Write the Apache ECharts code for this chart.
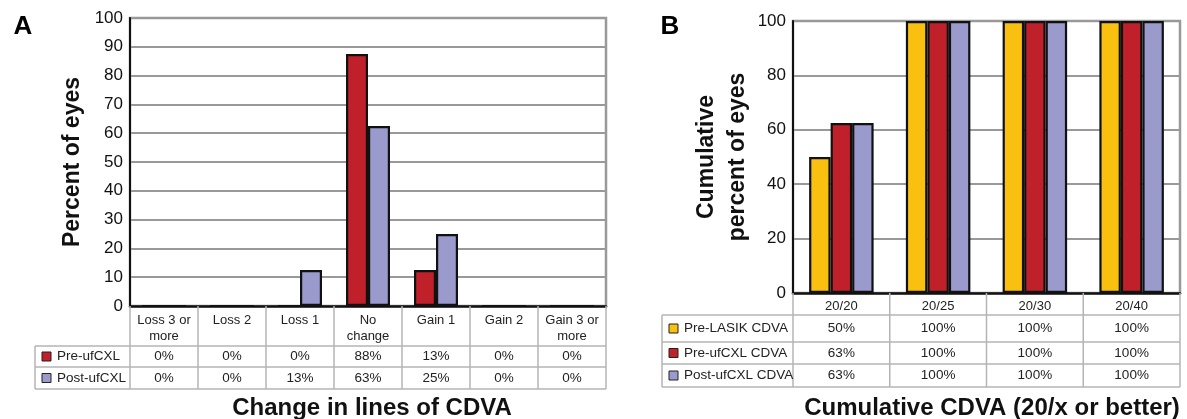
<!DOCTYPE html>
<html><head><meta charset="utf-8">
<script src="https://cdn.jsdelivr.net/npm/echarts@6/dist/echarts.min.js"></script>
<style>html,body{margin:0;padding:0;background:#fff}#c{width:1187px;height:419px}</style>
</head><body><div id="c"></div>
<script>
// ---- data ----
const catsA = ['Loss 3 or\nmore', 'Loss 2', 'Loss 1', 'No\nchange', 'Gain 1', 'Gain 2', 'Gain 3 or\nmore'];
const preA  = [0, 0, 0, 87.5, 12.5, 0, 0];
const postA = [0, 0, 12.5, 62.5, 25, 0, 0];
const namesA = ['Pre-ufCXL', 'Post-ufCXL'];

const catsB = ['20/20', '20/25', '20/30', '20/40'];
const preLasikB = [50, 100, 100, 100];
const preB  = [62.5, 100, 100, 100];
const postB = [62.5, 100, 100, 100];
const namesB = ['Pre-LASIK CDVA', 'Pre-ufCXL CDVA', 'Post-ufCXL CDVA'];

// ---- style ----
const FONT = 'Liberation Sans, Arial, Helvetica, sans-serif';
const RED = '#C0202A', LAV = '#9A9ACC', YEL = '#F9C010';
const GRID_C = '#999999', TBL_C = '#b4b4b4';

const GA = {left: 130, top: 18, width: 476, height: 288};
const GB = {left: 793, top: 21, width: 387, height: 272};

const chart = echarts.init(document.getElementById('c'), null, {renderer: 'canvas'});

function yAxis(gridIndex, interval, name, nameGap, nameSize) {
  return {
    type: 'value', gridIndex, min: 0, max: 100, interval,
    axisLine: {show: true, lineStyle: {color: '#111', width: 2}},
    axisTick: {show: false},
    axisLabel: {fontFamily: FONT, fontSize: 17, color: '#111', margin: 7},
    splitLine: {show: true, lineStyle: {color: GRID_C, width: 2}},
    name, nameLocation: 'middle', nameGap, nameRotate: 90,
    nameTextStyle: {fontFamily: FONT, fontSize: nameSize, fontWeight: 'bold', color: '#111', lineHeight: 31}
  };
}
function xAxis(gridIndex, data, margin) {
  return {
    type: 'category', gridIndex, data,
    axisLine: {show: true, lineStyle: {color: '#111', width: 2.5}},
    axisTick: {show: false},
    axisLabel: {fontFamily: FONT, fontSize: 13, color: '#222', lineHeight: 16, margin, interval: 0},
    splitLine: {show: false}
  };
}
const barStyle = c => ({color: c, borderColor: '#111', borderWidth: 2.2});

chart.setOption({
  animation: false,
  backgroundColor: '#fff',
  grid: [
    Object.assign({show: true, borderColor: GRID_C, borderWidth: 2.5, backgroundColor: 'transparent'}, GA),
    Object.assign({show: true, borderColor: GRID_C, borderWidth: 2.5, backgroundColor: 'transparent'}, GB)
  ],
  xAxis: [xAxis(0, catsA, 6), xAxis(1, catsB, 5)],
  yAxis: [yAxis(0, 10, 'Percent of eyes', 42, 23), yAxis(1, 20, 'Cumulative\npercent of eyes', 40, 23)],
  series: [
    {type: 'bar', name: namesA[0], xAxisIndex: 0, yAxisIndex: 0, data: preA, barWidth: 22, barGap: '0%', itemStyle: barStyle(RED)},
    {type: 'bar', name: namesA[1], xAxisIndex: 0, yAxisIndex: 0, data: postA, barWidth: 22, barGap: '0%', itemStyle: barStyle(LAV)},
    {type: 'bar', name: namesB[0], xAxisIndex: 1, yAxisIndex: 1, data: preLasikB, barWidth: 21.5, barGap: '0%', itemStyle: barStyle(YEL)},
    {type: 'bar', name: namesB[1], xAxisIndex: 1, yAxisIndex: 1, data: preB, barWidth: 21.5, barGap: '0%', itemStyle: barStyle(RED)},
    {type: 'bar', name: namesB[2], xAxisIndex: 1, yAxisIndex: 1, data: postB, barWidth: 21.5, barGap: '0%', itemStyle: barStyle(LAV)}
  ]
});

// ---- tables under the axes ----
const gfx = [];
const line = (x1, y1, x2, y2) => gfx.push({type: 'line', silent: true, z: 50,
  shape: {x1, y1, x2, y2}, style: {stroke: TBL_C, lineWidth: 1.5}});
const text = (x, y, t, opt) => gfx.push({type: 'text', silent: true, z: 60, x, y,
  style: Object.assign({text: t, fontFamily: FONT, fontSize: 13, fill: '#222', align: 'center', verticalAlign: 'middle'}, opt || {})});
const swatch = (x, y, c) => gfx.push({type: 'rect', silent: true, z: 60,
  shape: {x, y, width: 9, height: 9}, style: {fill: c, stroke: '#222', lineWidth: 1}});
const pct = v => Math.round(v) + '%';

function table(grid, gi, cats, rows, names, colors, legLeft, rowYs) {
  const right = grid.left + grid.width;
  const step = grid.width / cats.length;
  for (let k = 0; k <= cats.length; k++) {
    const x = grid.left + k * step;
    line(x, grid.top + grid.height, x, rowYs[rowYs.length - 1]);
  }
  line(legLeft, rowYs[0], legLeft, rowYs[rowYs.length - 1]);
  rowYs.forEach(y => line(legLeft, y, right, y));
  rows.forEach((vals, r) => {
    const yc = (rowYs[r] + rowYs[r + 1]) / 2;
    swatch(legLeft + 7, yc - 4.5, colors[r]);
    text(legLeft + 22, yc, names[r], {align: 'left', fontSize: 13.5});
    vals.forEach((v, i) => {
      const x = chart.convertToPixel({xAxisIndex: gi}, cats[i]);
      text(x, yc, pct(v), {fontSize: 13.5});
    });
  });
}
table(GA, 0, catsA, [preA, postA], namesA, [RED, LAV], 35, [346, 367, 389]);
table(GB, 1, catsB, [preLasikB, preB, postB], namesB, [YEL, RED, LAV], 662, [315, 342, 364, 387]);

// panel letters and bottom titles
text(23, 27, 'A', {fontSize: 26, fontWeight: 'bold', fill: '#000'});
text(670, 27, 'B', {fontSize: 26, fontWeight: 'bold', fill: '#000'});
text(372, 408, 'Change in lines of CDVA', {fontSize: 24, fontWeight: 'bold', fill: '#111'});
text(992, 408, 'Cumulative CDVA (20/x or better)', {fontSize: 24, fontWeight: 'bold', fill: '#111'});

chart.setOption({graphic: gfx});
</script>
</body></html>
